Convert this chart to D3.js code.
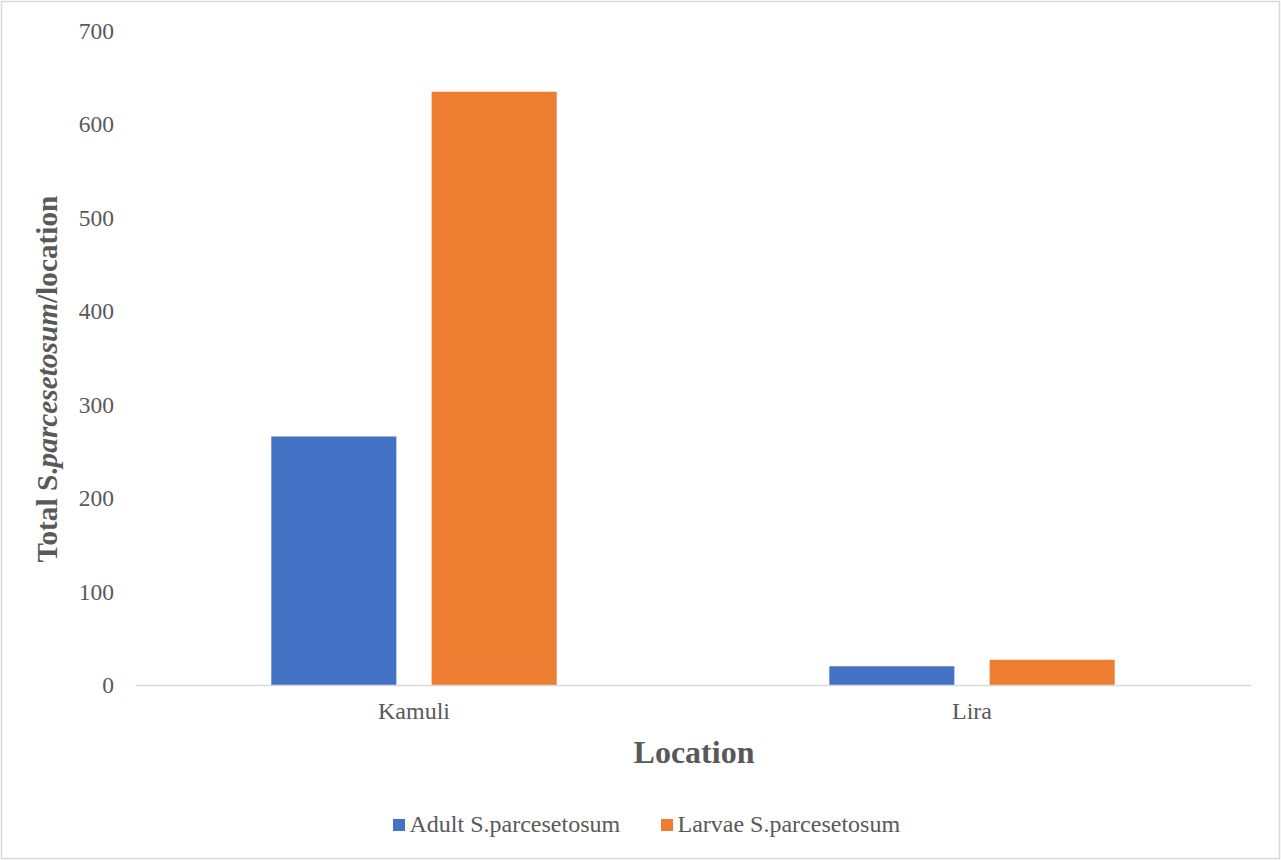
<!DOCTYPE html>
<html>
<head>
<meta charset="utf-8">
<script src="https://cdn.jsdelivr.net/npm/d3@7"></script>
<style>
  html, body { margin: 0; padding: 0; background: #fff; }
  svg { display: block; }
  text { font-family: "Liberation Serif", "Times New Roman", serif; }
</style>
</head>
<body>
<svg id="chart" width="1281" height="860"></svg>
<script>
// Counts of S. parcesetosum per location
const locations = ["Kamuli", "Lira"];
const seriesNames = ["Adult S.parcesetosum", "Larvae S.parcesetosum"];
const adultValues = [266, 20];
const larvaeValues = [635, 27];
const yTicks = [0, 100, 200, 300, 400, 500, 600, 700];
const seriesColors = ["#4472C4", "#ED7D31"];

const svg = d3.select("#chart");
const W = 1281, H = 860;
const serif = "'Liberation Serif', 'Times New Roman', serif";

// outer frame
svg.append("rect")
  .attr("x", 1.5).attr("y", 1.5)
  .attr("width", W - 3).attr("height", H - 3)
  .attr("fill", "#fff").attr("stroke", "#d9d9d9").attr("stroke-width", 1.5);

const plot = { left: 135, right: 1251, top: 31, bottom: 685 };

const x0 = d3.scaleBand()
  .domain(locations)
  .range([plot.left, plot.right])
  .paddingInner(0).paddingOuter(0);

const x1 = d3.scaleBand()
  .domain(seriesNames)
  .range([0, x0.bandwidth()])
  .paddingInner(0.22)
  .paddingOuter(0.85);

const y = d3.scaleLinear().domain([0, 700]).range([plot.bottom, plot.top]);

const rows = locations.map((loc, i) => ({
  loc,
  values: [adultValues[i], larvaeValues[i]]
}));

// y-axis tick labels (no axis line, no gridlines)
const yAxis = d3.axisLeft(y).tickValues(yTicks).tickSize(0).tickPadding(0);
const gy = svg.append("g")
  .attr("transform", `translate(114,0)`)
  .call(yAxis);
gy.select(".domain").remove();
gy.selectAll("text")
  .attr("fill", "#595959")
  .style("font-size", "23.5px")
  .style("font-family", serif);

// bars
const groups = svg.append("g").selectAll("g")
  .data(rows).join("g")
  .attr("transform", d => `translate(${x0(d.loc)},0)`);

groups.selectAll("rect")
  .data(d => d.values.map((v, j) => ({ name: seriesNames[j], v, j })))
  .join("rect")
  .attr("x", d => x1(d.name))
  .attr("width", x1.bandwidth())
  .attr("y", d => y(d.v))
  .attr("height", d => y(0) - y(d.v))
  .attr("fill", d => seriesColors[d.j]);

// x-axis baseline and category labels
const xAxis = d3.axisBottom(x0).tickSize(0).tickPadding(17);
const gx = svg.append("g")
  .attr("transform", `translate(0,${plot.bottom})`)
  .call(xAxis);
gx.select(".domain").attr("stroke", "#d9d9d9").attr("stroke-width", 1.5);
gx.selectAll("text")
  .attr("fill", "#595959")
  .style("font-size", "24px")
  .style("font-family", serif);

// axis titles
svg.append("text")
  .attr("x", 694)
  .attr("y", 763)
  .attr("text-anchor", "middle")
  .attr("fill", "#595959")
  .style("font-size", "32px")
  .style("font-weight", "bold")
  .text("Location");

const yt = svg.append("text")
  .attr("transform", "translate(57,379) rotate(-90)")
  .attr("text-anchor", "middle")
  .attr("fill", "#595959")
  .style("font-size", "29.3px")
  .style("font-weight", "bold");
yt.append("tspan").text("Total S.");
yt.append("tspan").style("font-style", "italic").text("parcesetosum");
yt.append("tspan").text("/location");

// legend
const legendItems = [
  { name: seriesNames[0], color: seriesColors[0], x: 393 },
  { name: seriesNames[1], color: seriesColors[1], x: 661 }
];
const lg = svg.append("g").selectAll("g")
  .data(legendItems).join("g")
  .attr("transform", d => `translate(${d.x},832)`);
lg.append("rect")
  .attr("x", 0).attr("y", -13)
  .attr("width", 12).attr("height", 12)
  .attr("fill", d => d.color);
lg.append("text")
  .attr("x", 16.5).attr("y", 0)
  .attr("fill", "#595959")
  .style("font-size", "24px")
  .text(d => d.name);
</script>
</body>
</html>
